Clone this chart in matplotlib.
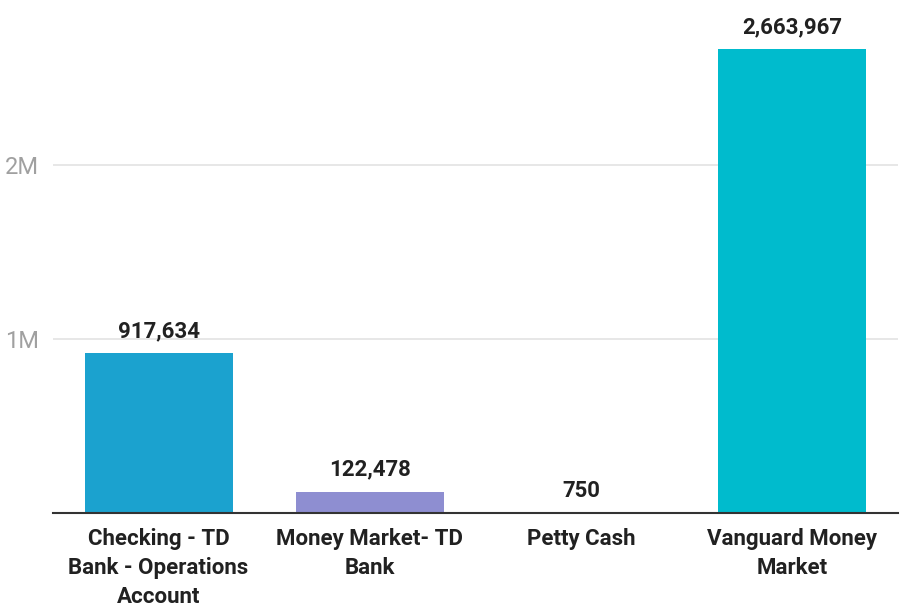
import matplotlib.pyplot as plt
from matplotlib.ticker import FuncFormatter

plt.rcParams['font.family'] = ['Roboto', 'DejaVu Sans']

# data
accounts = ["Checking - TD\nBank - Operations\nAccount", "Money Market- TD\nBank",
            "Petty Cash", "Vanguard Money\nMarket"]
balances = [917634, 122478, 750, 2663967]
colors = ["#1ba2cf", "#8e8ed1", "#4fc3c8", "#00bbcd"]

fig = plt.figure(figsize=(9.03, 6.09), dpi=100)
ax = fig.add_axes([53/903, 96/609, 845/903, 513/609])

x = range(len(accounts))
bars = ax.bar(x, balances, width=0.70, color=colors, zorder=3)

for b, v in zip(bars, balances):
    ax.annotate("{:,}".format(v), (b.get_x() + b.get_width()/2, v),
                xytext=(0, 8), textcoords="offset points", ha="center", va="bottom",
                fontsize=16, fontweight="bold", color="#212121")

ax.set_xlim(-0.5, 3.5)
ax.set_ylim(0, 2.948e6)
ax.set_yticks([1e6, 2e6])
ax.yaxis.set_major_formatter(FuncFormatter(lambda v, p: "{:d}M".format(int(v/1e6))))
ax.set_xticks(list(x))
ax.set_xticklabels(accounts, fontsize=16, fontweight="bold", color="#212121", linespacing=1.4)
ax.tick_params(axis="x", length=0, pad=11)
ax.tick_params(axis="y", length=0, pad=10, labelsize=17, labelcolor="#a0a0a0")
ax.grid(axis="y", color="#e3e3e3", linewidth=1.2, zorder=0)
for s in ["top", "right", "left"]:
    ax.spines[s].set_visible(False)
ax.spines["bottom"].set_color("#333333")
ax.spines["bottom"].set_linewidth(1.5)
ax.spines["bottom"].set_zorder(4)

fig.savefig("out.png", dpi=100)
